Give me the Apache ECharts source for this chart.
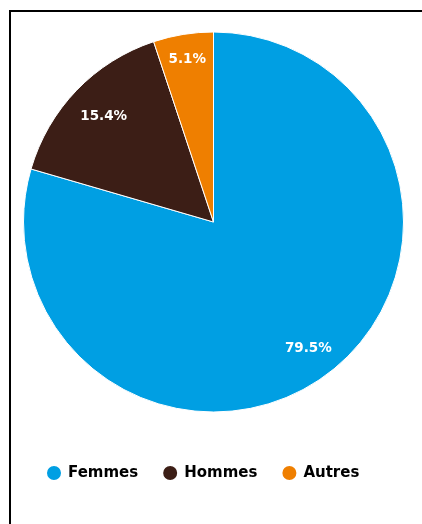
<!DOCTYPE html>
<html>
<head>
<meta charset="utf-8">
<script src="https://cdn.jsdelivr.net/npm/echarts@6/dist/echarts.min.js"></script>
<style>
html,body{margin:0;padding:0;background:#fff;}
#frame{position:absolute;left:9px;top:10px;width:600px;height:700px;border:2px solid #000;box-sizing:border-box;}
#chart{position:absolute;left:0;top:0;width:422px;height:524px;}
</style>
</head>
<body>
<div id="frame"></div>
<div id="chart"></div>
<script>
const categories = ['Femmes', 'Hommes', 'Autres'];
const values = [79.5, 15.4, 5.1];
const colors = ['#009FE3', '#3C1E16', '#EF7F00'];

const chart = echarts.init(document.getElementById('chart'), null, {renderer: 'canvas'});
const mainData = categories.map((c, i) => ({name: c, value: values[i], itemStyle: {color: colors[i]}}));
const labelOffsets = {Hommes: [4, 4], Autres: [-1, -7]};
const labelData = categories.map((c, i) => {
  const d = {name: c, value: values[i]};
  if (labelOffsets[c]) d.label = {offset: labelOffsets[c]};
  return d;
});

chart.setOption({
  animation: false,
  legend: {
    data: categories,
    left: 45,
    top: 464,
    padding: 0,
    icon: 'circle',
    itemWidth: 16,
    itemHeight: 16,
    itemGap: 23,
    textStyle: {
      fontFamily: 'DejaVu Sans',
      fontWeight: 'bold',
      fontSize: 15,
      color: '#000',
      padding: [0, 0, 0, 1]
    }
  },
  series: [
    {
      type: 'pie',
      center: [213.5, 222],
      radius: [0, 190],
      startAngle: 90,
      clockwise: true,
      label: {show: false},
      labelLine: {show: false},
      itemStyle: {borderColor: '#fff', borderWidth: 1},
      emphasis: {disabled: true},
      data: mainData
    },
    {
      type: 'pie',
      center: [213.5, 222],
      radius: [120, 190],
      startAngle: 90,
      clockwise: true,
      silent: true,
      legendHoverLink: false,
      itemStyle: {color: 'rgba(0,0,0,0)'},
      emphasis: {disabled: true},
      label: {
        show: true,
        position: 'inside',
        formatter: p => p.value.toFixed(1) + '%',
        color: '#fff',
        fontFamily: 'DejaVu Sans',
        fontWeight: 'bold',
        fontSize: 13.5
      },
      labelLine: {show: false},
      data: labelData
    }
  ]
});
</script>
</body>
</html>
